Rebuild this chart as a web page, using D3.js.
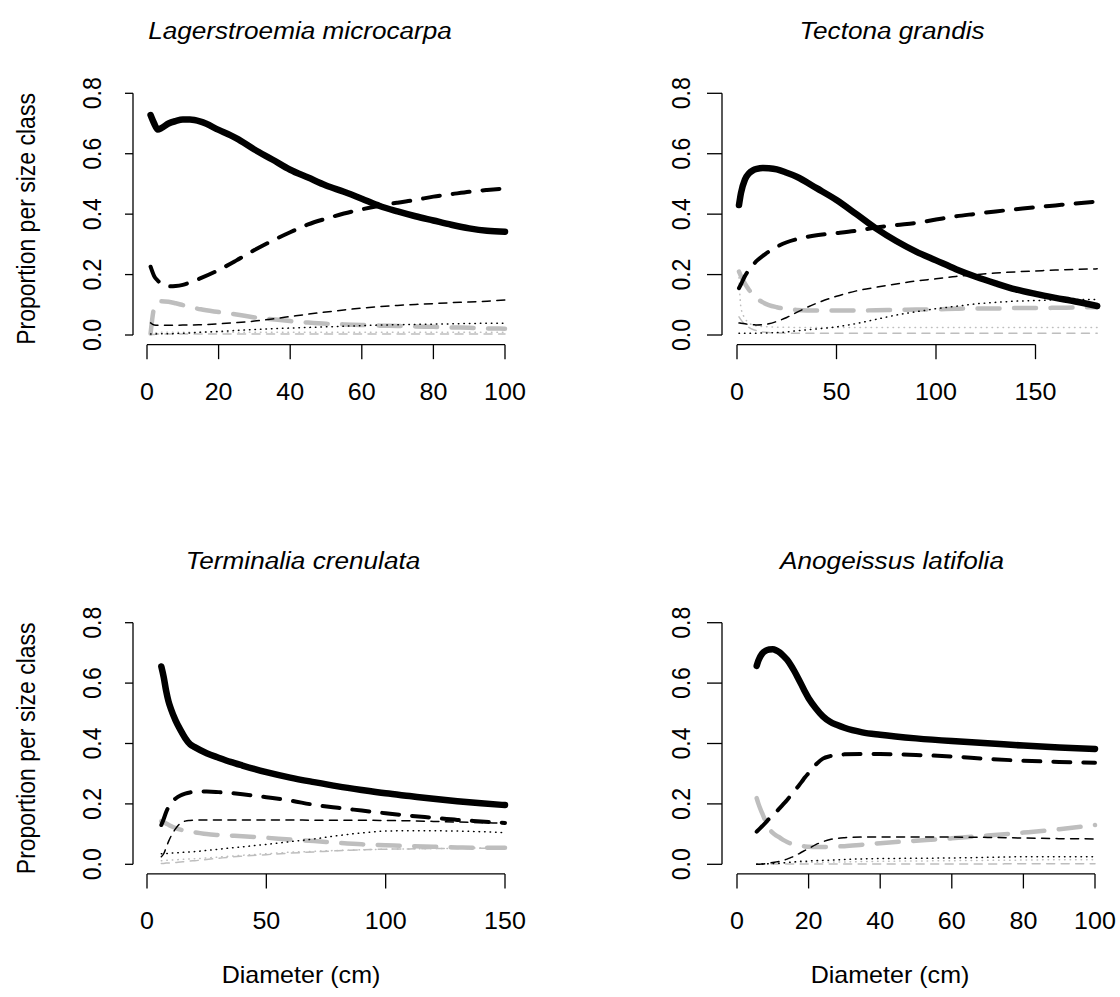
<!DOCTYPE html>
<html>
<head>
<meta charset="utf-8">
<script src="https://cdn.jsdelivr.net/npm/d3@7"></script>
<style>
  html, body { margin: 0; padding: 0; background: #ffffff; }
  svg { display: block; font-family: "Liberation Sans", Arial, Helvetica, sans-serif; }
</style>
</head>
<body>
<svg id="chart" width="1120" height="997"></svg>
<script>
// ---------------------------------------------------------------
// Proportion of trees per size class, by diameter (cm), 4 species.
// Seven classes per species (A..G), values read at each diameter.
// ---------------------------------------------------------------

// Lagerstroemia microcarpa
const lagD = [1, 2, 3, 4, 6, 8, 10, 12, 15, 20, 25, 30, 35, 40, 45, 50, 55, 60, 65, 70, 75, 80, 85, 90, 95, 100];
const lagA = [0.728, 0.700, 0.680, 0.685, 0.700, 0.708, 0.713, 0.713, 0.706, 0.679, 0.651, 0.614, 0.581, 0.547, 0.521, 0.495, 0.474, 0.451, 0.427, 0.409, 0.393, 0.379, 0.365, 0.353, 0.345, 0.342];
const lagB = [0.226, 0.195, 0.180, 0.170, 0.161, 0.162, 0.166, 0.174, 0.188, 0.215, 0.247, 0.281, 0.312, 0.340, 0.366, 0.385, 0.402, 0.416, 0.428, 0.438, 0.447, 0.458, 0.466, 0.474, 0.480, 0.485];
const lagC = [0.040, 0.033, 0.032, 0.032, 0.032, 0.032, 0.033, 0.033, 0.034, 0.037, 0.041, 0.046, 0.053, 0.061, 0.069, 0.076, 0.083, 0.089, 0.094, 0.098, 0.101, 0.104, 0.107, 0.109, 0.112, 0.116];
const lagDd = [0.003, 0.003, 0.004, 0.004, 0.004, 0.005, 0.006, 0.007, 0.009, 0.012, 0.015, 0.018, 0.021, 0.023, 0.025, 0.027, 0.029, 0.031, 0.033, 0.034, 0.035, 0.036, 0.037, 0.038, 0.039, 0.039];
const lagE = [0.005, 0.090, 0.108, 0.112, 0.110, 0.105, 0.099, 0.093, 0.085, 0.076, 0.068, 0.058, 0.052, 0.046, 0.041, 0.037, 0.035, 0.033, 0.031, 0.030, 0.028, 0.027, 0.025, 0.024, 0.022, 0.021];
const lagF = [0.001, 0.002, 0.003, 0.003, 0.003, 0.003, 0.003, 0.003, 0.003, 0.003, 0.003, 0.003, 0.003, 0.003, 0.003, 0.003, 0.003, 0.003, 0.003, 0.003, 0.003, 0.003, 0.003, 0.003, 0.003, 0.003];
const lagG = [0.004, 0.007, 0.008, 0.009, 0.009, 0.009, 0.009, 0.009, 0.009, 0.009, 0.009, 0.009, 0.009, 0.009, 0.009, 0.009, 0.009, 0.009, 0.009, 0.009, 0.009, 0.009, 0.009, 0.009, 0.009, 0.009];

// Tectona grandis
const tecD = [1, 2, 4, 6, 8, 10, 13, 16, 20, 25, 30, 40, 50, 60, 70, 80, 90, 100, 110, 120, 130, 140, 150, 160, 170, 181];
const tecA = [0.430, 0.470, 0.515, 0.535, 0.545, 0.550, 0.553, 0.552, 0.548, 0.537, 0.524, 0.486, 0.447, 0.400, 0.352, 0.311, 0.276, 0.247, 0.218, 0.193, 0.171, 0.151, 0.136, 0.123, 0.111, 0.096];
const tecB = [0.155, 0.168, 0.195, 0.215, 0.232, 0.246, 0.262, 0.276, 0.292, 0.307, 0.317, 0.330, 0.337, 0.345, 0.356, 0.364, 0.371, 0.382, 0.393, 0.401, 0.409, 0.416, 0.423, 0.429, 0.435, 0.442];
const tecC = [0.040, 0.039, 0.037, 0.035, 0.034, 0.033, 0.034, 0.037, 0.045, 0.058, 0.075, 0.105, 0.128, 0.146, 0.158, 0.169, 0.179, 0.186, 0.194, 0.200, 0.205, 0.209, 0.212, 0.215, 0.217, 0.219];
const tecDd = [0.006, 0.006, 0.006, 0.006, 0.006, 0.006, 0.007, 0.007, 0.008, 0.010, 0.014, 0.020, 0.027, 0.038, 0.052, 0.066, 0.077, 0.087, 0.095, 0.103, 0.108, 0.112, 0.114, 0.116, 0.117, 0.118];
const tecE = [0.210, 0.195, 0.170, 0.150, 0.133, 0.121, 0.108, 0.099, 0.092, 0.086, 0.083, 0.081, 0.081, 0.081, 0.082, 0.083, 0.084, 0.085, 0.087, 0.088, 0.088, 0.089, 0.089, 0.090, 0.091, 0.092];
const tecF = [0.060, 0.050, 0.035, 0.025, 0.018, 0.014, 0.010, 0.008, 0.007, 0.006, 0.006, 0.006, 0.006, 0.006, 0.006, 0.006, 0.006, 0.006, 0.006, 0.006, 0.006, 0.006, 0.006, 0.006, 0.006, 0.006];
const tecG = [0.190, 0.090, 0.055, 0.040, 0.033, 0.030, 0.028, 0.027, 0.026, 0.026, 0.025, 0.025, 0.025, 0.025, 0.025, 0.025, 0.025, 0.025, 0.025, 0.025, 0.025, 0.025, 0.025, 0.025, 0.025, 0.025];

// Terminalia crenulata
const terD = [6, 7, 8, 9, 10, 12, 14, 16, 18, 20, 25, 30, 35, 40, 50, 60, 70, 80, 90, 100, 110, 120, 130, 140, 150];
const terA = [0.655, 0.620, 0.575, 0.540, 0.515, 0.476, 0.445, 0.418, 0.398, 0.388, 0.368, 0.353, 0.339, 0.327, 0.305, 0.287, 0.272, 0.258, 0.246, 0.235, 0.226, 0.217, 0.209, 0.202, 0.196];
const terB = [0.130, 0.150, 0.172, 0.190, 0.203, 0.218, 0.228, 0.234, 0.238, 0.240, 0.241, 0.239, 0.236, 0.232, 0.222, 0.211, 0.197, 0.187, 0.178, 0.169, 0.161, 0.154, 0.147, 0.142, 0.137];
const terC = [0.025, 0.035, 0.055, 0.075, 0.092, 0.118, 0.136, 0.143, 0.145, 0.146, 0.147, 0.147, 0.147, 0.147, 0.147, 0.147, 0.146, 0.146, 0.146, 0.145, 0.144, 0.142, 0.140, 0.138, 0.136];
const terDd = [0.035, 0.035, 0.036, 0.036, 0.037, 0.038, 0.039, 0.040, 0.041, 0.042, 0.046, 0.050, 0.054, 0.058, 0.066, 0.075, 0.084, 0.095, 0.104, 0.110, 0.111, 0.111, 0.110, 0.108, 0.105];
const terE = [0.143, 0.140, 0.135, 0.131, 0.127, 0.120, 0.115, 0.111, 0.108, 0.106, 0.100, 0.097, 0.095, 0.093, 0.088, 0.082, 0.077, 0.071, 0.066, 0.063, 0.060, 0.058, 0.056, 0.055, 0.055];
const terF = [0.003, 0.003, 0.004, 0.004, 0.005, 0.006, 0.008, 0.009, 0.011, 0.012, 0.016, 0.020, 0.024, 0.027, 0.032, 0.037, 0.041, 0.045, 0.048, 0.050, 0.051, 0.052, 0.052, 0.053, 0.053];
const terG = [0.012, 0.012, 0.013, 0.013, 0.014, 0.015, 0.016, 0.017, 0.018, 0.018, 0.021, 0.024, 0.027, 0.030, 0.035, 0.040, 0.043, 0.046, 0.048, 0.050, 0.051, 0.052, 0.053, 0.054, 0.054];

// Anogeissus latifolia
const anoD = [5.5, 6, 7, 8, 9, 10, 11, 12, 13, 14, 15, 16, 17, 18, 19, 20, 22, 24, 26, 28, 30, 35, 40, 50, 60, 70, 80, 90, 100];
const anoA = [0.657, 0.675, 0.697, 0.707, 0.711, 0.712, 0.708, 0.701, 0.690, 0.677, 0.660, 0.640, 0.618, 0.595, 0.571, 0.550, 0.517, 0.490, 0.472, 0.461, 0.452, 0.437, 0.429, 0.417, 0.408, 0.401, 0.393, 0.387, 0.382];
const anoB = [0.108, 0.114, 0.126, 0.138, 0.151, 0.162, 0.174, 0.187, 0.200, 0.213, 0.228, 0.242, 0.257, 0.272, 0.288, 0.302, 0.330, 0.350, 0.358, 0.362, 0.364, 0.365, 0.365, 0.362, 0.357, 0.349, 0.343, 0.339, 0.336];
const anoC = [0.000, 0.000, 0.001, 0.002, 0.004, 0.006, 0.008, 0.010, 0.013, 0.017, 0.022, 0.027, 0.033, 0.040, 0.046, 0.052, 0.065, 0.075, 0.082, 0.086, 0.088, 0.090, 0.090, 0.090, 0.090, 0.089, 0.087, 0.085, 0.084];
const anoDd = [0.000, 0.000, 0.001, 0.001, 0.002, 0.003, 0.003, 0.004, 0.005, 0.006, 0.007, 0.008, 0.009, 0.010, 0.010, 0.011, 0.012, 0.013, 0.014, 0.015, 0.016, 0.018, 0.019, 0.020, 0.021, 0.023, 0.025, 0.025, 0.025];
const anoE = [0.219, 0.200, 0.170, 0.142, 0.118, 0.104, 0.095, 0.088, 0.080, 0.074, 0.069, 0.066, 0.063, 0.061, 0.059, 0.058, 0.057, 0.057, 0.058, 0.059, 0.060, 0.065, 0.070, 0.078, 0.086, 0.095, 0.105, 0.116, 0.130];
const anoF = [0.000, 0.000, 0.000, 0.000, 0.001, 0.001, 0.001, 0.001, 0.001, 0.001, 0.001, 0.001, 0.001, 0.001, 0.001, 0.001, 0.001, 0.001, 0.001, 0.001, 0.001, 0.001, 0.001, 0.001, 0.001, 0.001, 0.002, 0.002, 0.002];
const anoG = [0.000, 0.000, 0.001, 0.001, 0.002, 0.003, 0.003, 0.004, 0.004, 0.005, 0.005, 0.006, 0.006, 0.006, 0.006, 0.006, 0.007, 0.007, 0.008, 0.008, 0.008, 0.009, 0.010, 0.011, 0.012, 0.013, 0.014, 0.015, 0.015];

// Axis tick labels
const yTicks = [0, 0.2, 0.4, 0.6, 0.8];
const lagTicks = [0, 20, 40, 60, 80, 100];
const tecTicks = [0, 50, 100, 150];
const terTicks = [0, 50, 100, 150];
const anoTicks = [0, 20, 40, 60, 80, 100];

// ---------------------------------------------------------------
// Line styles for the seven classes (drawn back to front)
// ---------------------------------------------------------------
const GREY = "#bebebe";
const styles = {
  F: { color: GREY,    width: 1.5, dash: "8,6.5" },
  G: { color: GREY,    width: 1.5, dash: "0.5,5" },
  E: { color: GREY,    width: 4.5, dash: "22,14.5" },
  D: { color: "#000",  width: 1.5, dash: "0.5,5" },
  C: { color: "#000",  width: 1.5, dash: "8,6.5" },
  B: { color: "#000",  width: 4,   dash: "17,13" },
  A: { color: "#000",  width: 6.5, dash: null }
};
const drawOrder = ["F", "G", "E", "D", "C", "B", "A"];

// Text is drawn slightly widened horizontally
const SX = 1.09;

// Panel geometry: x0/x1 = pixel of x=0 and x=xRef; axisX = left axis line
const panels = [
  { title: "Lagerstroemia microcarpa", d: lagD,
    s: { A: lagA, B: lagB, C: lagC, D: lagDd, E: lagE, F: lagF, G: lagG },
    ticks: lagTicks, xRef: 100, x0: 147, x1: 505, axisX: 133, tickLen: 8,
    titleX: 300, yTop: 93.3, yBot: 335, col: 0, row: 0 },
  { title: "Tectona grandis", d: tecD,
    s: { A: tecA, B: tecB, C: tecC, D: tecDd, E: tecE, F: tecF, G: tecG },
    ticks: tecTicks, xRef: 150, x0: 737, x1: 1035.5, axisX: 722, tickLen: 15,
    titleX: 892, yTop: 93.3, yBot: 335, col: 1, row: 0 },
  { title: "Terminalia crenulata", d: terD,
    s: { A: terA, B: terB, C: terC, D: terDd, E: terE, F: terF, G: terG },
    ticks: terTicks, xRef: 150, x0: 147, x1: 505, axisX: 133, tickLen: 8,
    titleX: 303, yTop: 622.7, yBot: 864.3, col: 0, row: 1 },
  { title: "Anogeissus latifolia", d: anoD,
    s: { A: anoA, B: anoB, C: anoC, D: anoDd, E: anoE, F: anoF, G: anoG },
    ticks: anoTicks, xRef: 100, x0: 737, x1: 1095, axisX: 722, tickLen: 15,
    titleX: 892, yTop: 622.7, yBot: 864.3, col: 1, row: 1 }
];

const svg = d3.select("#chart");
const fmtY = d3.format(".1f");

panels.forEach(p => {
  const x = d3.scaleLinear().domain([0, p.xRef]).range([p.x0, p.x1]);
  const y = d3.scaleLinear().domain([0, 0.8]).range([p.yBot, p.yTop]);
  const axisY = p.yBot + (p.yBot - p.yTop) * 0.04;
  const g = svg.append("g");

  // Curves
  const line = d3.line()
    .x(d => x(d[0]))
    .y(d => y(d[1]))
    .curve(d3.curveMonotoneX);

  drawOrder.forEach(k => {
    const st = styles[k];
    const pts = p.d.map((dv, i) => [dv, p.s[k][i]]);
    g.append("path")
      .attr("d", line(pts))
      .attr("fill", "none")
      .attr("stroke", st.color)
      .attr("stroke-width", st.width)
      .attr("stroke-linecap", "round")
      .attr("stroke-linejoin", "round")
      .attr("stroke-dasharray", st.dash);
  });

  // Bottom axis (line spans first to last tick)
  const xa = g.append("g").attr("transform", `translate(0,${axisY})`);
  xa.append("line")
    .attr("x1", x(p.ticks[0])).attr("x2", x(p.ticks[p.ticks.length - 1]))
    .attr("stroke", "#000").attr("stroke-width", 1.3);
  xa.selectAll("line.tick").data(p.ticks).join("line")
    .attr("class", "tick")
    .attr("x1", d => x(d)).attr("x2", d => x(d))
    .attr("y1", 0).attr("y2", 14.5)
    .attr("stroke", "#000").attr("stroke-width", 1.3);
  xa.selectAll("text").data(p.ticks).join("text")
    .attr("transform", d => `translate(${x(d)},55) scale(${SX},1)`)
    .attr("text-anchor", "middle")
    .attr("font-size", 23)
    .text(d => d);

  // Left axis
  const ya = g.append("g").attr("transform", `translate(${p.axisX},0)`);
  ya.append("line")
    .attr("y1", y(0)).attr("y2", y(0.8))
    .attr("stroke", "#000").attr("stroke-width", 1.3);
  ya.selectAll("line.tick").data(yTicks).join("line")
    .attr("class", "tick")
    .attr("x1", 0).attr("x2", -p.tickLen)
    .attr("y1", d => y(d)).attr("y2", d => y(d))
    .attr("stroke", "#000").attr("stroke-width", 1.3);
  ya.selectAll("text").data(yTicks).join("text")
    .attr("transform", d => `translate(-41,${y(d)}) scale(${SX},1) rotate(-90)`)
    .attr("text-anchor", "middle")
    .attr("dy", "0.35em")
    .attr("font-size", 23)
    .text(d => fmtY(d));

  // Title
  g.append("text")
    .attr("transform", `translate(${p.titleX},${p.yTop - 54}) scale(${SX},1)`)
    .attr("text-anchor", "middle")
    .attr("font-size", 24)
    .attr("font-style", "italic")
    .text(p.title);

  // Axis labels
  if (p.col === 0) {
    g.append("text")
      .attr("transform", `translate(26,${(p.yTop + axisY) / 2}) scale(${SX},1) rotate(-90)`)
      .attr("text-anchor", "middle")
      .attr("dy", "0.35em")
      .attr("font-size", 23)
      .text("Proportion per size class");
  }
  if (p.row === 1) {
    g.append("text")
      .attr("transform", `translate(${p.titleX - 2},${axisY + 109}) scale(${SX},1)`)
      .attr("text-anchor", "middle")
      .attr("font-size", 23)
      .text("Diameter (cm)");
  }
});
</script>
</body>
</html>
